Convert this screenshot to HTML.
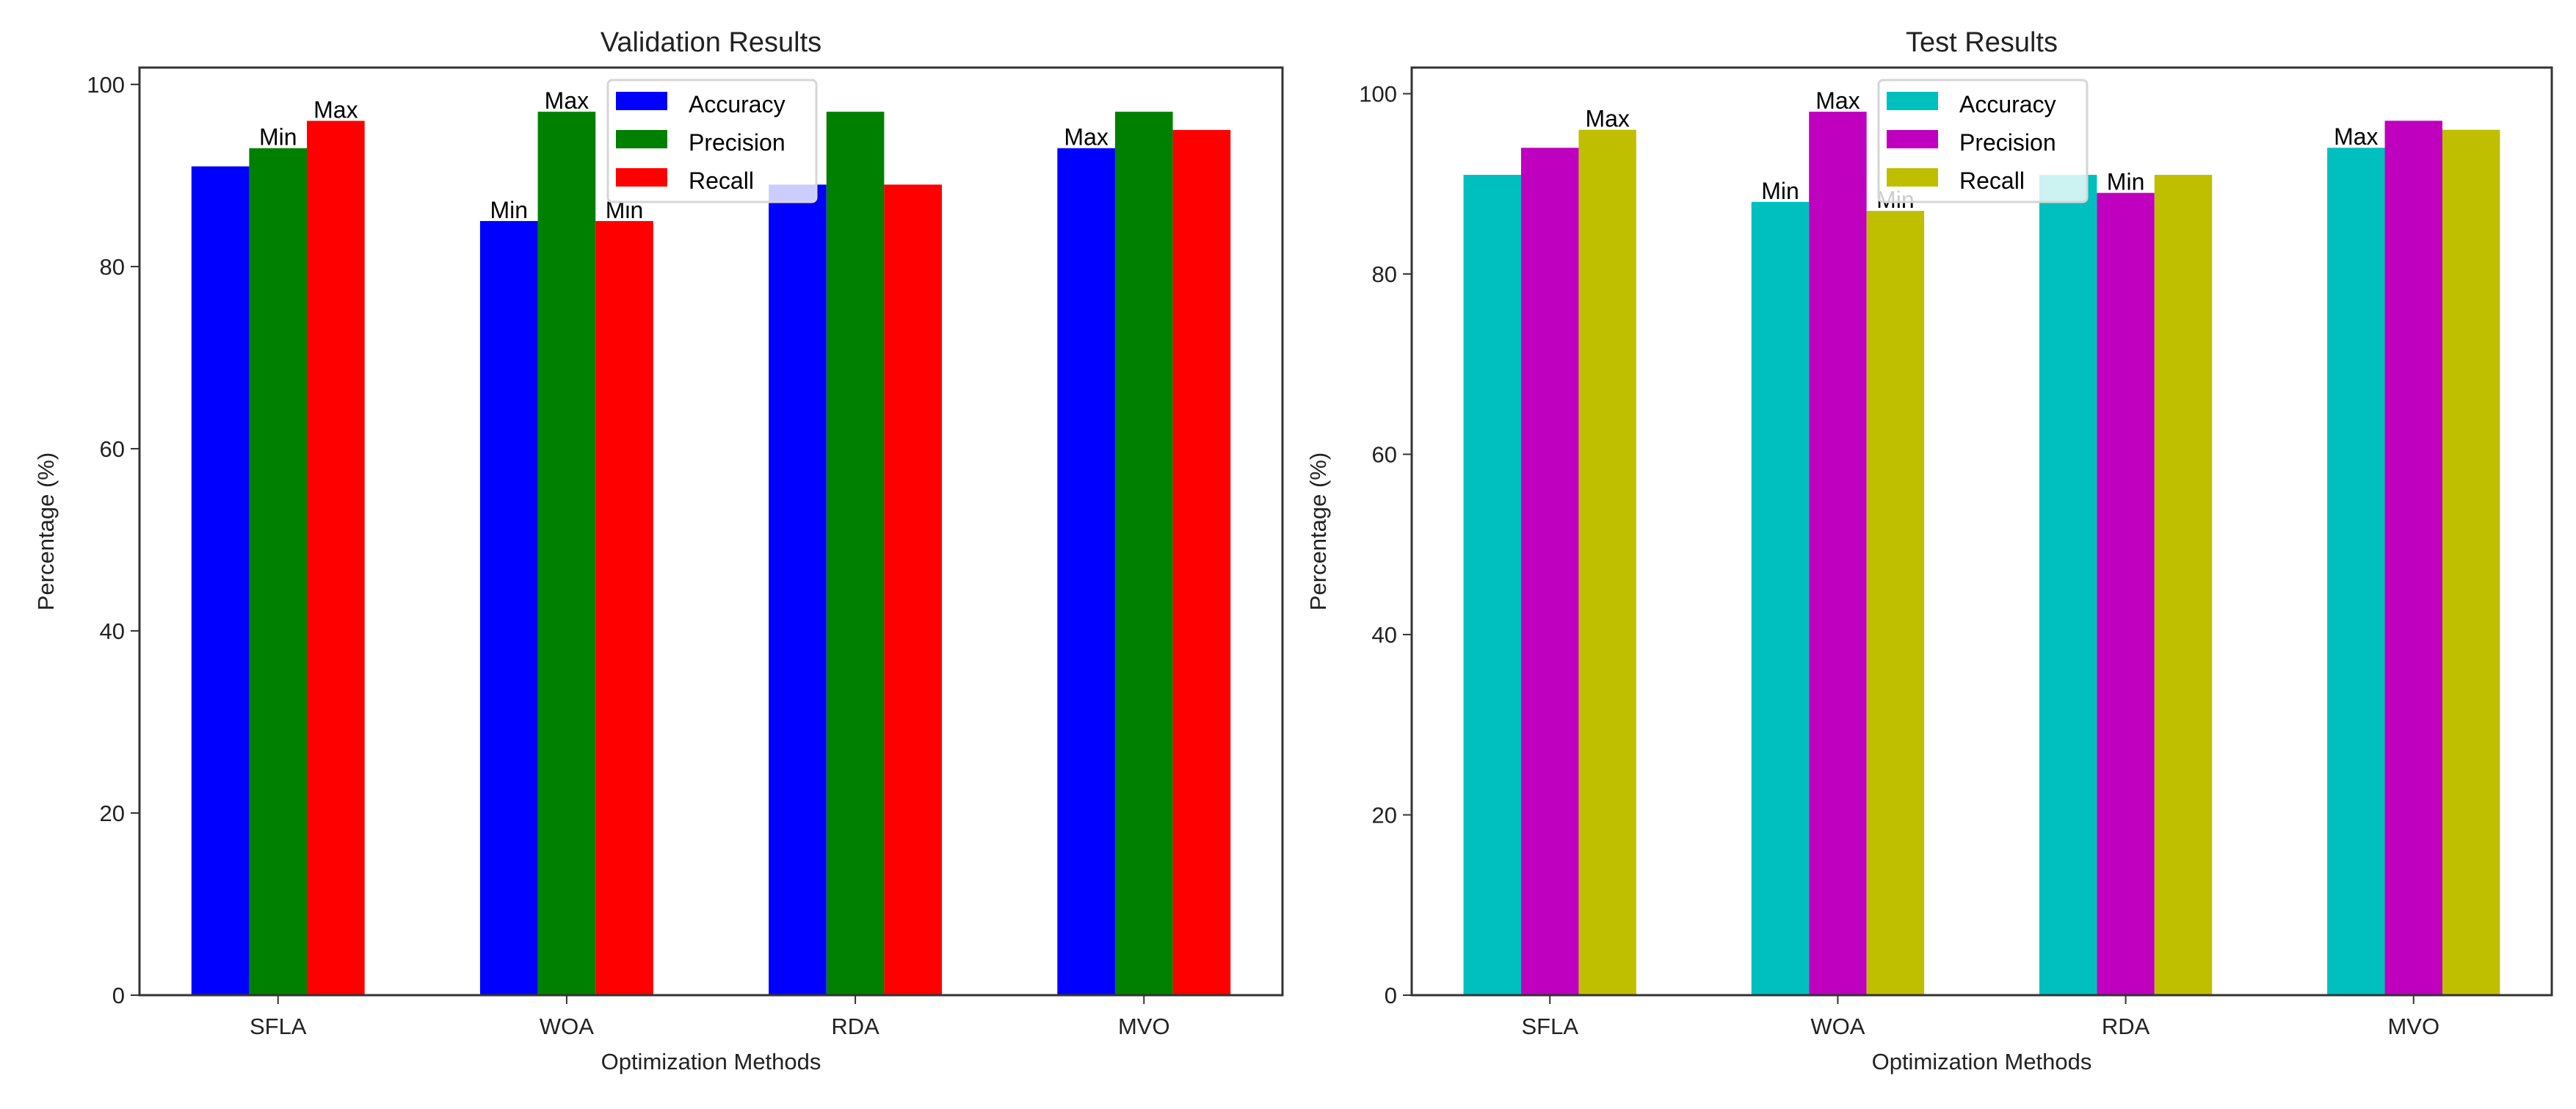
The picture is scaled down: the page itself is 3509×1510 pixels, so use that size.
<!DOCTYPE html>
<html><head><meta charset="utf-8"><style>
html,body{margin:0;padding:0;background:#fff;}
svg{display:block;font-family:"Liberation Sans","DejaVu Sans",sans-serif;}
</style></head><body>
<svg id="fig" width="3509" height="1510" viewBox="0 0 3509 1510"></svg>
<script>
const categories = ["SFLA","WOA","RDA","MVO"];
const seriesNames = ["Accuracy","Precision","Recall"];
const valAccuracy = [91,85,89,93];
const valPrecision = [93,97,97,97];
const valRecall = [96,85,89,95];
const testAccuracy = [91,88,91,94];
const testPrecision = [94,98,89,97];
const testRecall = [96,87,91,96];
const yTicks = [0,20,40,60,80,100];
const valMarks = [["",""],["Min","Max"],["Max","Min"]]; // placeholder not used
const valLabels = [[null,"Min","Max"],["Min","Max","Min"],[null,null,null],["Max",null,null]];
const testLabels = [[null,null,"Max"],["Min","Max","Min"],[null,"Min",null],["Max",null,null]];

const NS="http://www.w3.org/2000/svg";
const svg=document.getElementById('fig');
function mk(tag,attrs,parent){const e=document.createElementNS(NS,tag);for(const k in attrs)e.setAttribute(k,attrs[k]);(parent||svg).appendChild(e);return e;}

function drawChart(cfg){
  const g=mk('g',{});
  
  
  const L=cfg.left,R=cfg.right,T=92,B=1355;
  const allVals=cfg.series.flat();
  const ymax=Math.max(...allVals)*1.05;
  const xmin=-0.48,xmax=3.48;
  const xs=v=>L+(v-xmin)/(xmax-xmin)*(R-L);
  const ys=v=>B-v/ymax*(B-T);
  const bw=0.2;
  // bars
  cfg.series.forEach((arr,si)=>{
    arr.forEach((v,ci)=>{
      const off=(si-1)*bw;
      const x0=xs(ci+off-bw/2),x1=xs(ci+off+bw/2);
      const r=mk('rect',{x:x0,y:ys(v),width:x1-x0,height:B-ys(v),fill:cfg.colors[si]},g);
      
      
    });
  });
  // annotations
  cfg.labels.forEach((row,ci)=>{
    row.forEach((lab,si)=>{
      if(!lab)return;
      const v=cfg.series[si][ci];
      const t=mk('text',{x:xs(ci+(si-1)*bw),y:ys(v)-4,'font-size':32,'text-anchor':'middle',fill:'#000'},g);
      t.textContent=lab;
      
      
    });
  });
  // legend
  const lg=mk('g',{},g);
  
  
  mk('rect',{x:cfg.legX,y:109,width:284,height:166,rx:6,fill:'rgba(255,255,255,0.8)',stroke:'#d6d6d6','stroke-width':3},lg);
  seriesNames.forEach((n,i)=>{
    const e=mk('g',{},lg);
    
    
    mk('rect',{x:cfg.legX+11,y:125+i*52,width:70,height:25,fill:cfg.colors[i]},e);
    const t=mk('text',{x:cfg.legX+110,y:153+i*52,'font-size':32,fill:'#000'},e);
    t.textContent=n;
  });
  // frame
  const f=mk('rect',{x:L,y:T,width:R-L,height:B-T,fill:'none',stroke:'#333','stroke-width':3},g);
  
  
  // y ticks
  yTicks.forEach(v=>{
    mk('line',{x1:L-12,x2:L,y1:ys(v),y2:ys(v),stroke:'#333','stroke-width':2},g);
    const t=mk('text',{x:L-20,y:ys(v)+11,'font-size':31,'text-anchor':'end',fill:'#222'},g);
    t.textContent=v;
    
    
  });
  categories.forEach((c,ci)=>{
    mk('line',{x1:xs(ci),x2:xs(ci),y1:B,y2:B+12,stroke:'#333','stroke-width':2},g);
    const t=mk('text',{x:xs(ci),y:B+53,'font-size':31,'text-anchor':'middle',fill:'#222'},g);
    t.textContent=c;
    
    
  });
  const xl=mk('text',{x:(L+R)/2,y:1456,'font-size':31,'text-anchor':'middle',fill:'#222'},g);
  xl.textContent='Optimization Methods';
  
  
  const yl=mk('text',{x:0,y:0,'font-size':31,'text-anchor':'middle',fill:'#222',transform:`translate(${cfg.ylabX},${(T+B)/2}) rotate(-90)`},g);
  yl.textContent='Percentage (%)';
  
  
  const tt=mk('text',{x:(L+R)/2,y:70,'font-size':38,'text-anchor':'middle',fill:'#222'},g);
  tt.textContent=cfg.title;
  
  
}
drawChart({name:'validation-chart',title:'Validation Results',left:190,right:1747,
  series:[valAccuracy,valPrecision,valRecall],colors:['#0000ff','#008000','#ff0000'],
  labels:valLabels,legX:828,ylabX:73});
drawChart({name:'test-chart',title:'Test Results',left:1923,right:3476,
  series:[testAccuracy,testPrecision,testRecall],colors:['#00bfbf','#bf00bf','#bfbf00'],
  labels:testLabels,legX:2559,ylabX:1806});
</script>
</body></html>
